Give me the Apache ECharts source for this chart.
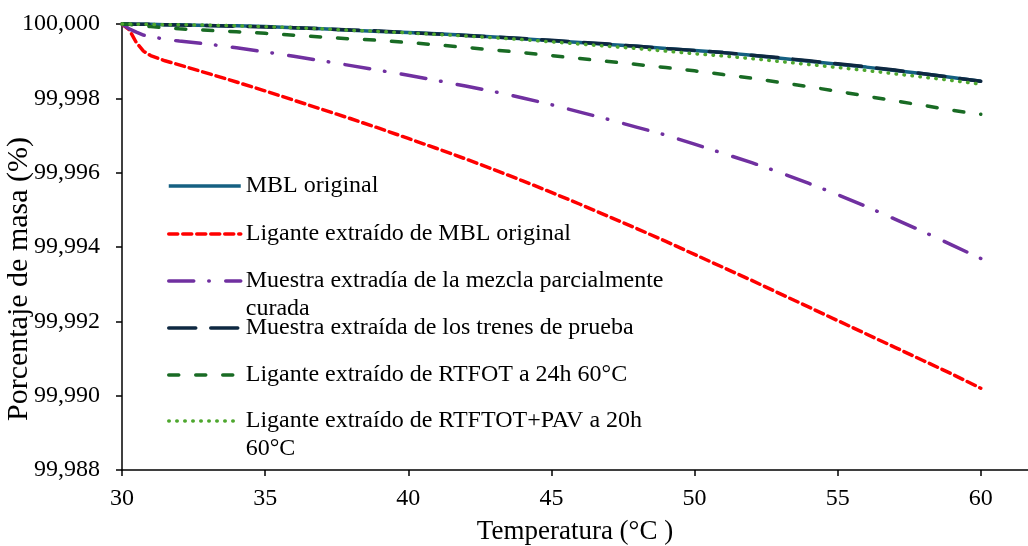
<!DOCTYPE html>
<html>
<head>
<meta charset="utf-8">
<script src="https://cdn.jsdelivr.net/npm/echarts@6/dist/echarts.min.js"></script>
<style>
html,body{margin:0;padding:0;background:#fff;}
#chart{width:1028px;height:546px;}
</style>
</head>
<body>
<div id="chart"></div>
<script>
var temps = [30, 30.25, 30.5, 30.75, 31, 31.5, 32, 33, 34, 35, 36, 37, 38, 39, 40, 41, 42, 43, 44, 45, 46, 47, 48, 49, 50, 51, 52, 53, 54, 55, 56, 57, 58, 59, 60];

var seriesNames = [
  'MBL original',
  'Ligante extraído de MBL original',
  'Muestra extradía de la mezcla parcialmente curada',
  'Muestra extraída de los trenes de prueba',
  'Ligante extraído de RTFOT a 24h 60°C',
  'Ligante extraído de RTFTOT+PAV a 20h 60°C'
];
var legendLabels = [
  'MBL original',
  'Ligante extraído de MBL original',
  'Muestra extradía de la mezcla parcialmente\ncurada',
  'Muestra extraída de los trenes de prueba',
  'Ligante extraído de RTFOT a 24h 60°C',
  'Ligante extraído de RTFTOT+PAV a 20h\n60°C'
];

var mblOriginal = [100.00000, 100.00000, 99.99999, 99.99999, 99.99999, 99.99998, 99.99998, 99.99996,
  99.99995, 99.99993, 99.99990, 99.99987, 99.99983, 99.99980, 99.99977, 99.99974, 99.99970, 99.99965,
  99.99960, 99.99955, 99.99950, 99.99945, 99.99940, 99.99934, 99.99929, 99.99923, 99.99916, 99.99908,
  99.99900, 99.99892, 99.99884, 99.99875, 99.99866, 99.99856, 99.99846];
var liganteMBL = [100.00000, 99.99985, 99.99950, 99.99927, 99.99915, 99.99901, 99.99890, 99.99867,
  99.99844, 99.99820, 99.99795, 99.99770, 99.99745, 99.99719, 99.99692, 99.99665, 99.99637, 99.99608,
  99.99578, 99.99547, 99.99515, 99.99482, 99.99449, 99.99415, 99.99380, 99.99345, 99.99310, 99.99274,
  99.99238, 99.99202, 99.99166, 99.99130, 99.99094, 99.99058, 99.99020];
var muestraParcial = [100.00000, 99.99987, 99.99978, 99.99970, 99.99966, 99.99959, 99.99954, 99.99946,
  99.99936, 99.99925, 99.99913, 99.99901, 99.99888, 99.99875, 99.99862, 99.99848, 99.99833, 99.99818,
  99.99801, 99.99783, 99.99763, 99.99743, 99.99722, 99.99701, 99.99677, 99.99652, 99.99627, 99.99600,
  99.99571, 99.99541, 99.99509, 99.99475, 99.99441, 99.99405, 99.99369];
var muestraTrenes = [100.00000, 100.00000, 99.99999, 99.99999, 99.99999, 99.99998, 99.99997, 99.99996,
  99.99994, 99.99992, 99.99990, 99.99987, 99.99984, 99.99981, 99.99977, 99.99973, 99.99969, 99.99965,
  99.99961, 99.99956, 99.99951, 99.99946, 99.99940, 99.99934, 99.99929, 99.99923, 99.99916, 99.99909,
  99.99901, 99.99893, 99.99885, 99.99876, 99.99866, 99.99856, 99.99846];
var liganteRTFOT = [100.00000, 99.99999, 99.99997, 99.99995, 99.99993, 99.99990, 99.99987, 99.99983,
  99.99979, 99.99975, 99.99970, 99.99965, 99.99960, 99.99956, 99.99950, 99.99944, 99.99937, 99.99930,
  99.99923, 99.99915, 99.99907, 99.99899, 99.99891, 99.99883, 99.99874, 99.99864, 99.99854, 99.99843,
  99.99831, 99.99819, 99.99806, 99.99793, 99.99781, 99.99768, 99.99757];
var liganteRTFTOTPAV = [100.00000, 100.00000, 99.99999, 99.99999, 99.99999, 99.99998, 99.99998, 99.99997,
  99.99995, 99.99993, 99.99990, 99.99987, 99.99983, 99.99980, 99.99976, 99.99972, 99.99968, 99.99963,
  99.99958, 99.99952, 99.99946, 99.99940, 99.99934, 99.99927, 99.99920, 99.99914, 99.99907, 99.99899,
  99.99891, 99.99883, 99.99875, 99.99866, 99.99857, 99.99848, 99.99838];

var xTicks = [30, 35, 40, 45, 50, 55, 60];
var yTicks = [99.988, 99.990, 99.992, 99.994, 99.996, 99.998, 100.000];

var allValues = [mblOriginal, liganteMBL, muestraParcial, muestraTrenes, liganteRTFOT, liganteRTFTOTPAV];
var colors = ['#156082', '#FF0000', '#7030A0', '#0E2841', '#196B24', '#4EA72E'];
var dashes = ['solid', [9, 5], [25, 15, 0.5, 16.5], [27, 15], [10, 17], [0.5, 7.5]];
var caps = ['butt', 'round', 'round', 'round', 'round', 'round'];
var rowCenters = [186, 234, 281, 328, 375, 421];

var FONT = '"Liberation Serif", "Times New Roman", serif';

function pairs(vals) {
  return temps.map(function (t, i) { return [t, vals[i]]; });
}

var series = seriesNames.map(function (name, i) {
  return {
    name: name,
    type: 'line',
    data: pairs(allValues[i]),
    symbol: 'none',
    showSymbol: false,
    smooth: false,
    clip: false,
    lineStyle: { color: colors[i], width: 3.5, type: dashes[i], cap: caps[i] },
    itemStyle: { color: colors[i] },
    emphasis: { disabled: true }
  };
});

var legends = seriesNames.map(function (name, i) {
  var twoLine = legendLabels[i].indexOf('\n') >= 0;
  return {
    data: [name],
    left: 167,
    top: twoLine ? rowCenters[i] - 42 : rowCenters[i] - 14,
    padding: 0,
    itemWidth: 72,
    itemHeight: 12,
    selectedMode: false,
    itemStyle: { color: 'transparent', borderWidth: 0, opacity: 0 },
    lineStyle: { width: 3.5, type: dashes[i], cap: caps[i], color: colors[i] },
    formatter: function () { return twoLine ? ' \n' + legendLabels[i] : legendLabels[i]; },
    textStyle: { fontFamily: FONT, fontSize: 24, color: '#000', lineHeight: 28 }
  };
});

var chart = echarts.init(document.getElementById('chart'), null, { renderer: 'canvas' });
chart.setOption({
  animation: false,
  backgroundColor: '#fff',
  grid: { left: 122, right: 0, top: 24, bottom: 76, containLabel: false, outerBoundsMode: 'none' },
  legend: legends,
  xAxis: {
    type: 'value',
    min: 30,
    max: 61.65,
    interval: 5,
    name: 'Temperatura (°C )',
    nameLocation: 'middle',
    nameGap: 48,
    nameMoveOverlap: false,
    nameTextStyle: { fontFamily: FONT, fontSize: 27, color: '#000' },
    axisLine: { show: true, onZero: false, lineStyle: { color: '#000', width: 1.5 } },
    axisTick: { show: true, length: 6, inside: false, customValues: xTicks, lineStyle: { color: '#000', width: 1.5 } },
    axisLabel: { customValues: xTicks, fontFamily: FONT, fontSize: 24, color: '#000', margin: 17 },
    splitLine: { show: false }
  },
  yAxis: {
    type: 'value',
    min: 99.988,
    max: 100,
    interval: 0.002,
    name: 'Porcentaje de masa (%)',
    nameLocation: 'middle',
    nameGap: 88,
    nameMoveOverlap: false,
    nameTextStyle: { fontFamily: FONT, fontSize: 30, color: '#000', padding: [0, 64, 0, 0] },
    axisLine: { show: true, onZero: false, lineStyle: { color: '#000', width: 1.5 } },
    axisTick: { show: true, length: 6, inside: false, customValues: yTicks, lineStyle: { color: '#000', width: 1.5 } },
    axisLabel: {
      customValues: yTicks,
      fontFamily: FONT, fontSize: 24, color: '#000', margin: 22,
      formatter: function (v) { return v.toFixed(3).replace('.', ','); }
    },
    splitLine: { show: false }
  },
  series: series
});
</script>
</body>
</html>
